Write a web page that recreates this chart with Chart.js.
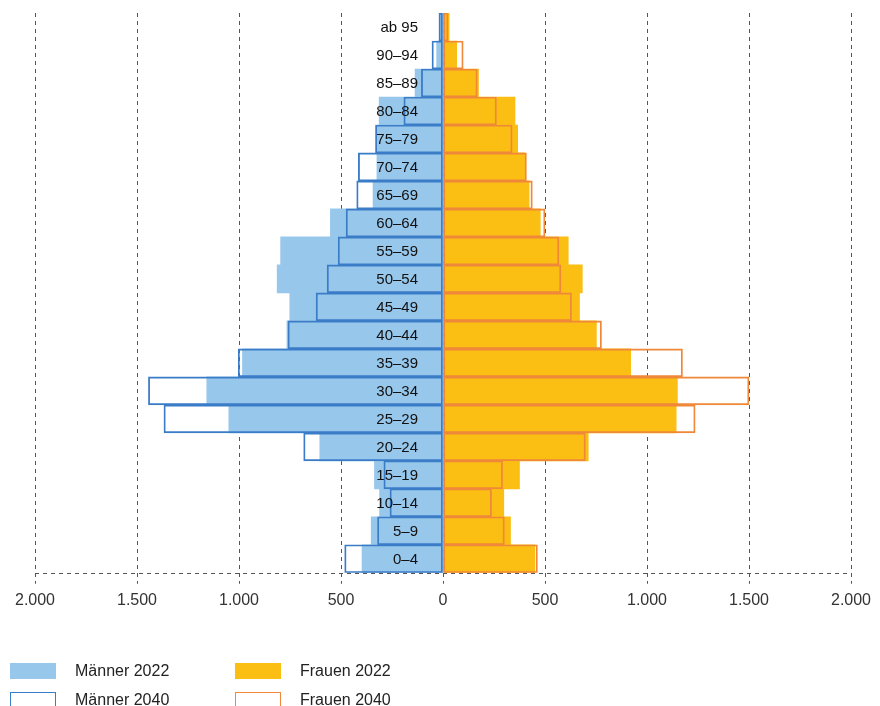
<!DOCTYPE html>
<html lang="de">
<head>
<meta charset="utf-8">
<script src="https://cdn.jsdelivr.net/npm/chart.js@4.4.1/dist/chart.umd.min.js"></script>
<style>
  html, body { margin: 0; padding: 0; background: #fff; }
  #wrap { position: relative; width: 880px; height: 706px; overflow: hidden; }
  #wrap canvas { position: absolute; left: 0; top: 0; }
  .legend-item { position: absolute; font: 16px 'Liberation Sans', Arial, sans-serif; color: #222; }
  .legend-box { position: absolute; width: 46px; height: 16px; box-sizing: border-box; }
  .legend-label { position: absolute; white-space: nowrap; line-height: 16px; }
</style>
</head>
<body>
<div id="wrap">
  <canvas id="chart" width="880" height="706"></canvas>
  <div id="legend"></div>
</div>
<script>
// Altersgruppen, von oben nach unten
const ageGroups = ["ab 95", "90–94", "85–89", "80–84", "75–79", "70–74", "65–69", "60–64", "55–59",
  "50–54", "45–49", "40–44", "35–39", "30–34", "25–29", "20–24", "15–19", "10–14", "5–9", "0–4"]

const men2022 = [12, 31, 137, 313, 324, 324, 343, 552, 796, 813, 751, 765, 983, 1158, 1050, 604, 336, 311, 352, 397]
const men2040 = [20, 54, 106, 192, 331, 415, 423, 475, 514, 568, 622, 760, 1004, 1444, 1368, 683, 290, 260, 321, 482]
const women2022 = [30, 67, 174, 353, 366, 401, 422, 477, 614, 683, 669, 752, 920, 1149, 1143, 712, 375, 298, 331, 450]
const women2040 = [25, 99, 168, 262, 339, 409, 438, 500, 568, 578, 630, 777, 1174, 1500, 1236, 698, 292, 238, 301, 463]

const xTicks = [-2000, -1500, -1000, -500, 0, 500, 1000, 1500, 2000]

const blueFill = "#98c7ec"
const blueLine = "#3b7cc7"
const orangeFill = "#fbbe13"
const orangeLine = "#f0883a"
const gridColor = "#555"

Chart.defaults.font.family = "'Liberation Sans', Arial, sans-serif"
Chart.defaults.color = "#333"

// Altersgruppen mittig ueber die Balken schreiben, dazu die gestrichelte Grundlinie
const overlayPlugin = {
  id: "overlay",
  afterDatasetsDraw(chart) {
    const { ctx, chartArea, scales } = chart
    ctx.save()
    ctx.font = "15px 'Liberation Sans', Arial, sans-serif"
    ctx.fillStyle = "#111"
    ctx.textAlign = "right"
    ctx.textBaseline = "middle"
    const xr = scales.x.getPixelForValue(0) - 25
    ageGroups.forEach((g, i) => {
      ctx.fillText(g, xr, scales.y.getPixelForValue(i) + 1)
    })
    ctx.strokeStyle = gridColor
    ctx.lineWidth = 1
    ctx.setLineDash([4, 4])
    ctx.beginPath()
    ctx.moveTo(chartArea.left, Math.round(chartArea.bottom) + 0.5)
    ctx.lineTo(chartArea.right, Math.round(chartArea.bottom) + 0.5)
    ctx.stroke()
    ctx.restore()
  }
}

const neg = arr => arr.map(v => -v)

new Chart(document.getElementById("chart"), {
  type: "bar",
  data: {
    labels: ageGroups,
    datasets: [
      { label: "Männer 2040", data: neg(men2040), backgroundColor: "rgba(0,0,0,0)", borderColor: blueLine, borderWidth: 1.2, borderSkipped: false, order: 1 },
      { label: "Frauen 2040", data: women2040, backgroundColor: "rgba(0,0,0,0)", borderColor: orangeLine, borderWidth: 1.2, borderSkipped: false, order: 1 },
      { label: "Männer 2022", data: neg(men2022), backgroundColor: blueFill, borderWidth: 0, order: 2 },
      { label: "Frauen 2022", data: women2022, backgroundColor: orangeFill, borderWidth: 0, order: 2 }
    ]
  },
  options: {
    indexAxis: "y",
    responsive: false,
    animation: false,
    layout: { padding: { left: 35, right: 29, top: 13, bottom: 89 } },
    datasets: {
      bar: { grouped: false, barPercentage: 1, categoryPercentage: 1 }
    },
    plugins: { legend: { display: false }, tooltip: { enabled: false } },
    scales: {
      x: {
        min: -2000,
        max: 2000,
        afterBuildTicks: axis => { axis.ticks = xTicks.map(v => ({ value: v })) },
        grid: {
          color: gridColor,
          lineWidth: 1,
          tickLength: 11,
          tickColor: gridColor,
          tickBorderDash: [4, 4]
        },
        border: { display: false, dash: [4, 4] },
        ticks: {
          padding: 7,
          color: "#333",
          font: { size: 16 },
          maxRotation: 0,
          callback: v => Math.abs(v).toLocaleString("de-DE")
        }
      },
      y: { display: false }
    }
  },
  plugins: [overlayPlugin]
})

// Legende in zwei Spalten unter dem Diagramm
const legendItems = [
  { text: "Männer 2022", x: 10, y: 663, style: "background:" + blueFill },
  { text: "Frauen 2022", x: 235, y: 663, style: "background:" + orangeFill },
  { text: "Männer 2040", x: 10, y: 692, style: "border:1.5px solid " + blueLine },
  { text: "Frauen 2040", x: 235, y: 692, style: "border:1.5px solid " + orangeLine }
]
const legendEl = document.getElementById("legend")
legendItems.forEach(it => {
  const d = document.createElement("div")
  d.className = "legend-item"
  d.style.left = it.x + "px"
  d.style.top = it.y + "px"
  d.innerHTML = '<div class="legend-box" style="left:0;top:0;' + it.style + '"></div>' +
    '<div class="legend-label" style="left:65px;top:0">' + it.text + '</div>'
  legendEl.appendChild(d)
})
</script>
</body>
</html>
